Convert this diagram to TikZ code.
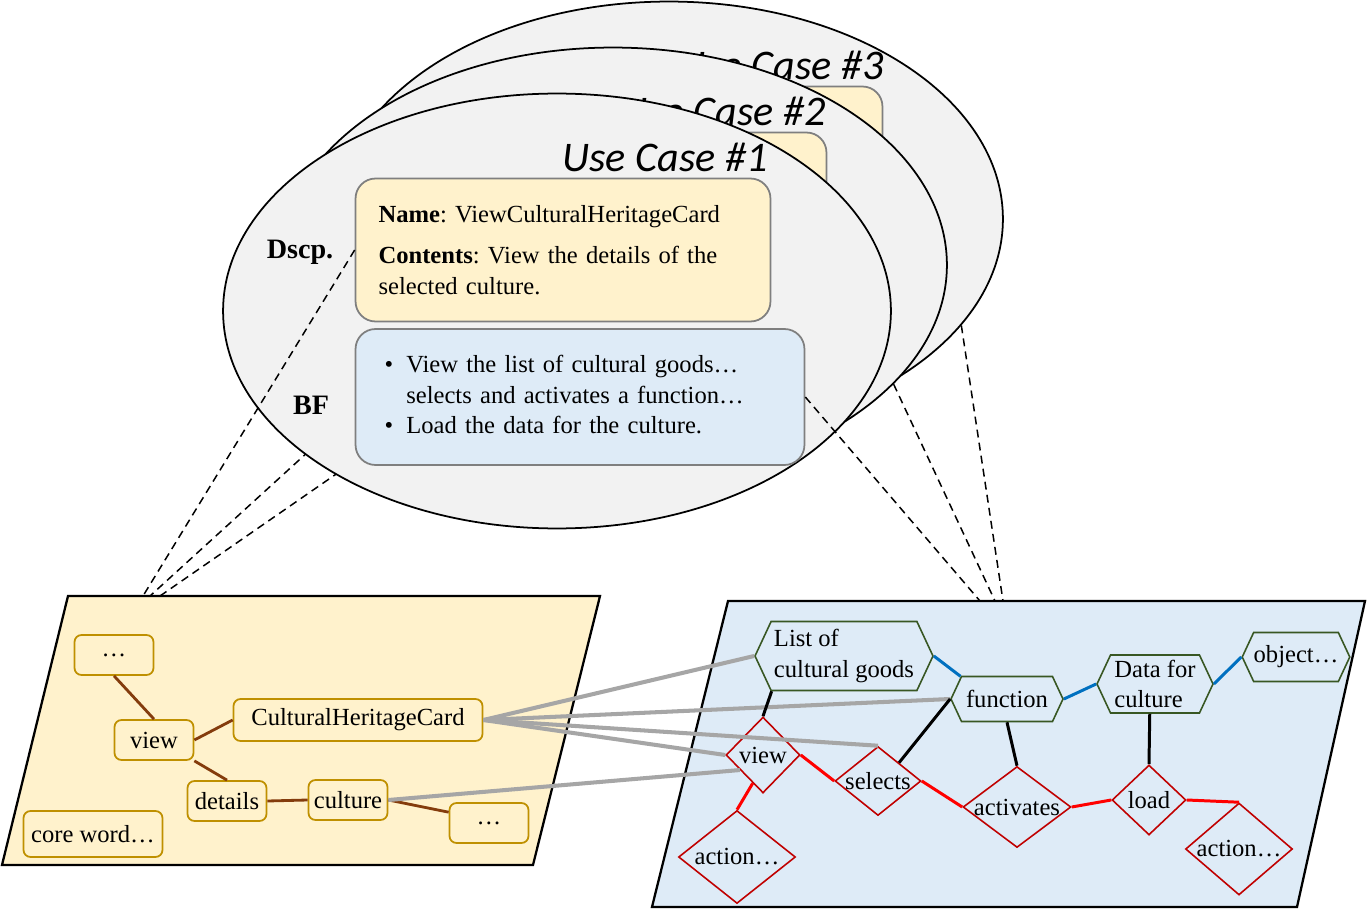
\documentclass[tikz,border=0pt]{standalone}
\usepackage{fontspec}
\setmainfont{Liberation Serif}
\newfontfamily\handfont{Carlito}
\usepackage{xcolor}
\usetikzlibrary{shapes.geometric,shapes.symbols}
\frenchspacing

\definecolor{ellgray}{HTML}{F2F2F2}
\definecolor{boxgray}{HTML}{7F7F7F}
\definecolor{dscpyel}{HTML}{FFF2CC}
\definecolor{bfblue}{HTML}{DEEBF7}
\definecolor{wordline}{HTML}{BF9000}
\definecolor{relbrown}{HTML}{843C0C}
\definecolor{actred}{HTML}{C00000}
\definecolor{flowred}{HTML}{FF0000}
\definecolor{conceptgreen}{HTML}{385723}
\definecolor{linkblue}{HTML}{0070C0}
\definecolor{mapgray}{HTML}{A6A6A6}

\begin{document}
\begin{tikzpicture}[
    x=0.02cm, y=-0.02cm,
    every node/.style={font=\fontsize{14}{17.5}\selectfont},
    ucase/.style={ellipse, draw, fill=ellgray, line width=1pt, minimum width=13.36cm, minimum height=8.7cm},
    dscp/.style={rectangle, rounded corners=0.4cm, draw=boxgray, line width=1pt, fill=dscpyel, minimum width=8.3cm, minimum height=2.86cm, text width=7.38cm, inner xsep=0.46cm, align=left},
    bfbox/.style={rectangle, rounded corners=0.4cm, draw=boxgray, line width=1pt, fill=bfblue, minimum height=2.72cm, text width=7.82cm, inner xsep=0.58cm, align=left},
    title/.style={font=\fontsize{24}{28}\selectfont\handfont\itshape, anchor=base east, inner sep=0pt},
    part/.style={font=\fontsize{16}{19}\selectfont\bfseries},
    word/.style={rectangle, rounded corners=4pt, draw=wordline, line width=1pt, fill=dscpyel, minimum width=1.58cm, minimum height=0.8cm, inner xsep=0.1cm},
    concept/.style={signal, signal to=west and east, signal pointer angle=130, draw=conceptgreen, line width=0.9pt, inner sep=0pt, align=left},
    act/.style={diamond, draw=actred, line width=0.9pt, inner sep=-4pt},
    guide/.style={dash pattern=on 4.5pt off 3pt, line width=0.85pt},
    rel/.style={draw=relbrown, line width=1.6pt},
    flow/.style={draw=flowred, line width=1.7pt},
    link/.style={draw=linkblue, line width=1.7pt},
    tie/.style={draw=black, line width=1.7pt},
    map/.style={draw=mapgray, line width=2.3pt}
]
    \useasboundingbox (0,0) rectangle (1367,909);

    \coordinate (lpA) at (143,596);
    \coordinate (lpB) at (150,596);
    \coordinate (lpC) at (160,596);
    \coordinate (rpA) at (980,601);
    \coordinate (rpB) at (995,601);
    \coordinate (rpC) at (1003,601);

    \node[ucase] (ucC) at (669,219) {};
    \node[dscp] (dscpC) at (675,158) {};
    \node[title] (titleC) at (884,80) {Use Case \#3};
    \draw[guide] (ucC.219) -- (lpC);
    \draw[guide] (ucC.-20) -- (rpC);

    \node[ucase] (ucB) at (613,265) {};
    \node[dscp] (dscpB) at (619,204) {};
    \node[title] (titleB) at (826,126) {Use Case \#2};
    \draw[guide] (ucB.209) -- (lpB);
    \draw[guide] (ucB.-23) -- (rpB);

    \node[ucase] (ucA) at (557,311) {};
    \node[dscp] (dscpA) at (563,250) {\textbf{Name}: ViewCulturalHeritageCard\\[6pt]\textbf{Contents}: View the details of the\\selected culture.};
    \node[bfbox] (bfA) at (580,397) {\begin{tabular}{@{}l@{\hspace{7.5pt}}l@{}}
        \textbullet & View the list of cultural goods…\\
                    & selects and activates a function…\\
        \textbullet & Load the data for the culture.
    \end{tabular}};
    \node[title] (titleA) at (768,172) {Use Case \#1};
    \node[part] (dscpL) at (300,252) {Dscp.};
    \node[part] (bfL) at (311,405) {BF};
    \draw[guide] (dscpA.west) -- (lpA);
    \draw[guide] (bfA.east) -- (rpA);

    \draw[line width=1.3pt, fill=dscpyel] (68,596) -- (600,596) -- (533,865) -- (2,865) -- cycle;
    \draw[line width=1.3pt, fill=bfblue] (728,601) -- (1365,601) -- (1297,907) -- (652,907) -- cycle;

    \node[word] (dotsA) at (114,655) {…};
    \node[word] (viewL) at (154,740) {view};
    \node[word, minimum width=4.98cm, minimum height=0.84cm] (chc) at (358,720) {CulturalHeritageCard};
    \node[word] (details) at (227,801) {details};
    \node[word] (culture) at (348,800) {culture};
    \node[word] (dotsB) at (489,823) {…};
    \node[word, minimum width=2.78cm, minimum height=0.92cm] (core) at (93,834) {core word…};

    \draw[rel] (dotsA.south) -- (viewL.north);
    \draw[rel] (viewL.east) -- (chc.west);
    \draw[rel] (viewL.south east) -- (details.north);
    \draw[rel] (details.east) -- (culture.west);
    \draw[rel] (culture.east) -- (dotsB.165);

    \node[concept, minimum width=3.56cm, minimum height=1.38cm] (goods) at (844,656) {List of\\cultural goods};
    \node[concept, minimum width=2.24cm, minimum height=0.9cm] (func) at (1007,699) {function};
    \node[concept, minimum width=2.32cm, minimum height=1.16cm] (data) at (1155,684) {Data for\\culture};
    \node[concept, minimum width=2.06cm, minimum height=0.98cm] (obj) at (1296,657) {object…};

    \node[act, minimum width=1.48cm, minimum height=1.52cm] (viewR) at (763,755) {view};
    \node[act, minimum width=1.72cm, minimum height=1.38cm] (sel) at (878,781) {selects};
    \node[act, minimum width=2.16cm, minimum height=1.62cm] (actv) at (1017,807) {activates};
    \node[act, minimum width=1.48cm, minimum height=1.4cm] (load) at (1149,800) {load};
    \node[act, minimum width=2.34cm, minimum height=1.86cm] (actA) at (737,857) {action…};
    \node[act, minimum width=2.14cm, minimum height=1.84cm] (actB) at (1239,849) {action…};

    \draw[map] (chc.east) -- (goods.west);
    \draw[map] (chc.east) -- (func.west);
    \draw[map] (chc.east) -- (sel.north);
    \draw[map] (chc.east) -- (viewR.west);
    \draw[map] (culture.east) -- (viewR.213);

    \draw[link] (goods.east) -- (func.154);
    \draw[link] (func.east) -- (data.west);
    \draw[link] (data.east) -- (obj.west);

    \draw[tie] (goods.206) -- (viewR.north);
    \draw[tie] (sel.41) -- (func.west);
    \draw[tie] (func.south) -- (actv.north);
    \draw[tie] (data.-100) -- (load.north);

    \draw[flow] (viewR.east) -- (sel.west);
    \draw[flow] (sel.east) -- (actv.west);
    \draw[flow] (actv.east) -- (load.west);
    \draw[flow] (load.east) -- (actB.north);
    \draw[flow] (viewR.250) -- (actA.north);
\end{tikzpicture}
\end{document}
